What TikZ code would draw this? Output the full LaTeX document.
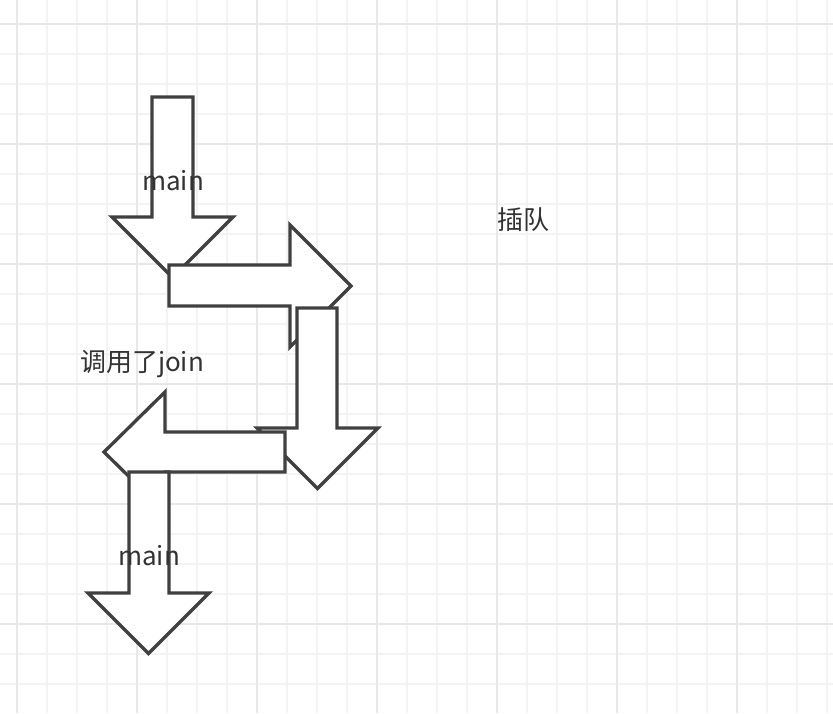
\documentclass[tikz,border=0pt]{standalone}
\usepackage{fontspec}
\setmainfont{Noto Sans CJK SC}
\definecolor{minorgrid}{HTML}{F3F3F3}
\definecolor{majorgrid}{HTML}{E8E8E8}
\definecolor{arrowline}{HTML}{404040}
\definecolor{labeltext}{HTML}{333333}
\tikzset{
	blockarrow/.style={draw=arrowline, fill=white, line width=3.3pt, line join=miter},
	label/.style={text=labeltext, font=\fontsize{26}{30}\selectfont, inner sep=0pt}
}
\begin{document}
\begin{tikzpicture}[x=1pt, y=-1pt]
		\useasboundingbox (0,0) rectangle (833,713);
		\fill[white] (0,0) rectangle (833,713);
		%grid
		\foreach \x in {17, 47, ..., 833}{
			\draw[minorgrid, line width=2pt] (\x, 0)--(\x, 713);
		}
		\foreach \y in {24, 54, ..., 713}{
			\draw[minorgrid, line width=2pt] (0, \y)--(833, \y);
		}
		\foreach \x in {17, 137, ..., 833}{
			\draw[majorgrid, line width=2pt] (\x, 0)--(\x, 713);
		}
		\foreach \y in {24, 144, ..., 713}{
			\draw[majorgrid, line width=2pt] (0, \y)--(833, \y);
		}
		
		%arrows, in drawing order
		\draw[blockarrow] (152,97)--(193,97)--(193,217)--(233,217)--(172.5,277.5)--(112,217)--(152,217)--cycle;
		\draw[blockarrow] (169,265)--(290,265)--(290,225)--(351,286)--(290,347)--(290,306)--(169,306)--cycle;
		\draw[blockarrow] (297,308)--(337,308)--(337,428)--(378,428)--(317.5,488.5)--(257,428)--(297,428)--cycle;
		\draw[blockarrow] (285,432)--(165,432)--(165,392)--(104,452)--(165,512)--(165,472)--(285,472)--cycle;
		\draw[blockarrow] (129,472)--(169,472)--(169,593)--(209,593)--(148.5,653.5)--(88,593)--(129,593)--cycle;
		
		%labels
		\node[label] (maintop) at (173, 181){main};
		\node[label] (join) at (142, 364){调用了join};
		\node[label] (mainbottom) at (149, 556){main};
		\node[label] (queue) at (523, 220){插队};
\end{tikzpicture}
\end{document}
